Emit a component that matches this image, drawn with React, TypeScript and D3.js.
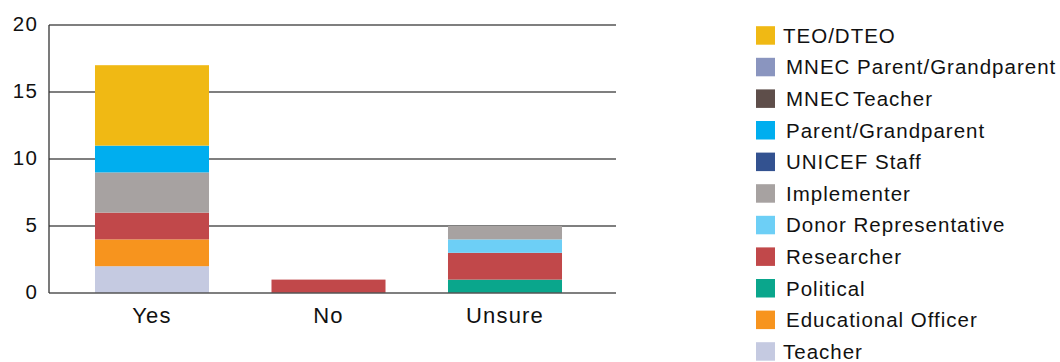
import React from "react";
import * as d3 from "d3";

const categories = ["Yes", "No", "Unsure"];
const seriesNames = [
  "Teacher",
  "Educational Officer",
  "Political",
  "Researcher",
  "Donor Representative",
  "Implementer",
  "UNICEF Staff",
  "Parent/Grandparent",
  "MNEC Teacher",
  "MNEC Parent/Grandparent",
  "TEO/DTEO",
];
const legendLabels = [
  "TEO/DTEO",
  "MNEC Parent/Grandparent",
  "MNEC\u200ATeacher",
  "Parent/Grandparent",
  "UNICEF Staff",
  "Implementer",
  "Donor Representative",
  "Researcher",
  "Political",
  "Educational Officer",
  "Teacher",
];
const teacher = [2, 0, 0];
const educationalOfficer = [2, 0, 0];
const political = [0, 0, 1];
const researcher = [2, 1, 2];
const donorRepresentative = [0, 0, 1];
const implementer = [3, 0, 1];
const unicefStaff = [0, 0, 0];
const parentGrandparent = [2, 0, 0];
const mnecTeacher = [0, 0, 0];
const mnecParent = [0, 0, 0];
const teoDteo = [6, 0, 0];
const yTicks = [0, 5, 10, 15, 20];

const seriesValues = [
  teacher,
  educationalOfficer,
  political,
  researcher,
  donorRepresentative,
  implementer,
  unicefStaff,
  parentGrandparent,
  mnecTeacher,
  mnecParent,
  teoDteo,
];
const colors: Record<string, string> = {
  "TEO/DTEO": "#F0B914",
  "MNEC Parent/Grandparent": "#8A95BF",
  "MNEC Teacher": "#5E4E4A",
  "Parent/Grandparent": "#00AEEF",
  "UNICEF Staff": "#335290",
  Implementer: "#A7A2A1",
  "Donor Representative": "#6DCFF6",
  Researcher: "#C1484A",
  Political: "#0AA68C",
  "Educational Officer": "#F7941E",
  Teacher: "#C5CAE1",
};
const legendKeys = [
  "TEO/DTEO",
  "MNEC Parent/Grandparent",
  "MNEC Teacher",
  "Parent/Grandparent",
  "UNICEF Staff",
  "Implementer",
  "Donor Representative",
  "Researcher",
  "Political",
  "Educational Officer",
  "Teacher",
];

export default function App() {
  const W = 1060, H = 362;
  const left = 49, right = 616, top = 25, bottom = 293;
  const y = d3.scaleLinear().domain([0, 20]).range([bottom, top]);
  const x = d3
    .scaleBand<string>()
    .domain(categories)
    .range([63.75, 593.25])
    .paddingInner(0.354)
    .paddingOuter(0.177);

  const table = categories.map((c, i) => {
    const row: any = { cat: c };
    seriesNames.forEach((s, j) => (row[s] = seriesValues[j][i]));
    return row;
  });
  const stacked = d3.stack<any>().keys(seriesNames)(table);
  const font = "'Liberation Sans', Arial, Helvetica, sans-serif";

  return (
    <svg width={W} height={H} style={{ position: "absolute", left: 0, top: 0 }}>
      <rect width={W} height={H} fill="#fff" />
      {yTicks.map((t) => (
        <g key={t}>
          {t > 0 && (
            <line x1={left} x2={right} y1={y(t)} y2={y(t)} stroke="#555" strokeWidth={1.3} />
          )}
          <text
            x={38.5}
            y={y(t)}
            dy="0.3em"
            textAnchor="end"
            fontFamily={font}
            fontSize={20.5}
            letterSpacing={1.5}
            fill="#111"
          >
            {t}
          </text>
        </g>
      ))}
      {stacked.map((layer) =>
        layer.map((d, i) =>
          d[1] - d[0] > 0 ? (
            <rect
              key={layer.key + i}
              x={x(categories[i])}
              width={x.bandwidth()}
              y={y(d[1])}
              height={y(d[0]) - y(d[1])}
              fill={colors[layer.key]}
            />
          ) : null
        )
      )}
      <line x1={left} x2={right} y1={y(0)} y2={y(0)} stroke="#555" strokeWidth={1.3} />
      <line x1={left} x2={left} y1={top} y2={bottom} stroke="#333" strokeWidth={1.3} />
      {categories.map((c) => (
        <text
          key={c}
          x={(x(c) as number) + x.bandwidth() / 2}
          y={322.5}
          textAnchor="middle"
          fontFamily={font}
          fontSize={22}
          letterSpacing={1.2}
          fill="#111"
        >
          {c}
        </text>
      ))}
      {legendKeys.map((k, i) => {
        const cy = 35.5 + i * 31.6;
        return (
          <g key={k}>
            <rect x={756} y={cy - 9.3} width={19} height={18.5} fill={colors[k]} />
            <text
              x={i === 0 || i === 10 ? 783 : 786}
              y={cy}
              dy="0.36em"
              fontFamily={font}
              fontSize={20.5}
              letterSpacing={1}
              fill="#111"
            >
              {legendLabels[i]}
            </text>
          </g>
        );
      })}
    </svg>
  );
}
